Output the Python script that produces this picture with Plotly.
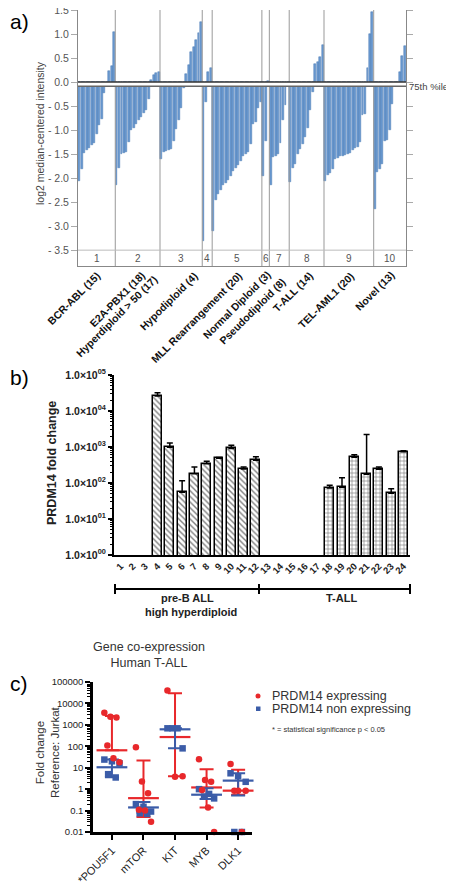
import plotly.graph_objects as go

# the page body keeps its default 8px margin, so the figure starts at (8, 8)
OFF = 8
W, H = 454 - OFF, 886 - OFF
FONT = "Liberation Sans, Arial, sans-serif"


def fx(p):
    return (p - OFF) / W


def fy(p):
    return 1 - (p - OFF) / H


# ---------------- panel a data ----------------
subtype_labels = ["BCR-ABL (15)", "E2A-PBX1 (18)", "Hyperdiploid > 50 (17)", "Hypodiploid (4)",
                  "MLL Rearrangement (20)", "Normal Diploid (3)", "Pseudodiploid (8)",
                  "T-ALL (14)", "TEL-AML1 (20)", "Novel (13)"]
group_numbers = ["1", "2", "3", "4", "5", "6", "7", "8", "9", "10"]
bcr_abl = [-2.05, -1.8, -1.47, -1.42, -1.37, -1.32, -1.27, -1.08, -0.9, -0.76, -0.22, -0.05, 0.22, 0.33, 1.05]
e2a_pbx1 = [-2.15, -1.78, -1.5, -1.48, -1.45, -1.25, -1.0, -0.95, -0.88, -0.8, -0.72, -0.65, -0.58,
            -0.35, 0.05, 0.14, 0.19, 0.2]
hyperdiploid = [-1.6, -1.45, -1.43, -1.42, -1.4, -1.22, -0.98, -0.8, -0.55, -0.12, 0.16, 0.35, 0.62,
                0.72, 0.87, 1.02, 1.26]
hypodiploid = [-3.3, -0.42, 0.2, 0.3]
mll = [-3.1, -2.45, -2.33, -2.25, -2.15, -2.1, -2.03, -1.95, -1.85, -1.78, -1.72, -1.65, -1.55, -1.5,
       -1.45, -1.3, -0.87, -0.83, -0.55, -0.42]
normal_diploid = [-1.95, -1.22, 0.02]
pseudodiploid = [-2.15, -1.57, -1.55, -1.5, -1.27, -0.78, -0.47, -0.02]
t_all = [-2.08, -1.78, -1.7, -1.5, -1.4, -1.3, -1.15, -0.95, -0.58, -0.2, 0.38, 0.42, 0.52, 0.78]
tel_aml1 = [-2.05, -1.93, -1.9, -1.8, -1.6, -1.58, -1.55, -1.53, -1.52, -1.5, -1.48, -1.42, -1.38,
            -1.35, -1.25, -0.68, -0.67, 0.3, 1.0, 1.45]
novel = [-2.65, -1.88, -1.82, -1.7, -1.22, -1.2, -1.0, -0.46, -0.08, 0.0, 0.2, 0.55, 0.75]
ytick_a = [1.5, 1.0, 0.5, 0.0, -0.5, -1.0, -1.5, -2.0, -2.5, -3.0, -3.5]
ytick_a_text = ["1.5", "1.0", "0.5", "0.0", "- 0.5", "- 1.0", "- 1.5", "- 2.0", "- 2.5", "- 3.0", "- 3.5"]
percentile_level = -0.085

# ---------------- panel b data ----------------
patient_ids = list(range(1, 25))
preb_ids = [4, 5, 6, 7, 8, 9, 10, 11, 12]
preb_fold = [26000, 980, 55, 180, 340, 490, 910, 245, 430]
preb_err_top = [32000, 1300, 115, 280, 400, 510, 1120, 280, 540]
tall_ids = [18, 19, 20, 21, 22, 23, 24]
tall_fold = [73, 76, 520, 175, 240, 52, 740]
tall_err_top = [87, 140, 610, 2230, 280, 69, 790]
ytick_b = [1, 10, 100, 1000, 10000, 100000]
ytick_b_exp = ["00", "01", "02", "03", "04", "05"]

# ---------------- panel c data ----------------
genes = ["*POU5F1", "mTOR", "KIT", "MYB", "DLK1"]
expr_points = [[3700, 2400, 2200, 110, 28, 18],
               [90, 2.3, 0.65, 0.11, 0.1, 0.03],
               [40000, 4.0, 3.8],
               [25, 2.7, 2.2, 0.9, 0.14, 0.01],
               [15, 0.85, 0.85, 0.85, 0.01]]
nonexpr_points = [[24, 20, 16, 5, 3.5],
                  [0.2, 0.15, 0.09, 0.075, 0.07],
                  [690, 690, 690, 80],
                  [1.0, 0.6, 0.45, 0.37],
                  [5.5, 4.0, 2.2, 0.01, 0.01]]
expr_mean = [65, 0.38, 270, 1.2, 0.85]
expr_upper = [2600, 22, 30000, 8.5, 8.0]
expr_lower = [65, 0.05, 4.0, 0.14, 0.55]
non_mean = [10.5, 0.14, 620, 0.55, 2.5]
non_upper = [24, 0.25, 700, 1.1, 5.5]
non_lower = [3.6, 0.08, 80, 0.35, 0.5]
ytick_c = [0.01, 0.1, 1, 10, 100, 1000, 10000, 100000]
ytick_c_text = ["0.01", "0.1", "1", "10", "100", "1000", "10000", "100000"]

RED = "#e8282b"
BLUE = "#3b5ca8"

fig = go.Figure()
shapes = []
annotations = []


def note(text, x, y, size, color="#222", xanchor="center", yanchor="middle", angle=0, xref="paper",
         yref="paper"):
    annotations.append(dict(text=text, xref=xref, yref=yref, x=x, y=y, xanchor=xanchor,
                            yanchor=yanchor, textangle=angle, showarrow=False, borderpad=0,
                            font=dict(size=size, color=color, family=FONT)))


# ---- panel a bars
all_groups = [bcr_abl, e2a_pbx1, hyperdiploid, hypodiploid, mll, normal_diploid, pseudodiploid,
              t_all, tel_aml1, novel]
values_a = []
for g in all_groups:
    values_a.extend(g)
counts = [len(g) for g in all_groups]
n_a = len(values_a)
fig.add_trace(go.Bar(x=list(range(n_a)), y=values_a, width=0.78,
                     marker=dict(color="#6b9bd2", line=dict(color="#4676b0", width=0.5)),
                     xaxis="x", yaxis="y", showlegend=False))

bounds = [0]
for c in counts:
    bounds.append(bounds[-1] + c)
for b in bounds[1:-1]:
    shapes.append(dict(type="line", xref="x", yref="y", x0=b - 0.5, x1=b - 0.5, y0=-3.83, y1=1.5,
                       line=dict(color="#999", width=1), layer="above"))
shapes.append(dict(type="line", xref="x", yref="y", x0=-0.5, x1=n_a - 0.5, y0=-3.5, y1=-3.5,
                   line=dict(color="#bbb", width=1)))
shapes.append(dict(type="rect", xref="x", yref="y", x0=-0.5, x1=n_a - 0.5, y0=percentile_level, y1=0,
                   fillcolor="white", line=dict(width=0), layer="above"))
shapes.append(dict(type="line", xref="x", yref="y", x0=-0.5, x1=n_a - 0.5, y0=0, y1=0,
                   line=dict(color="#333", width=1.5), layer="above"))
shapes.append(dict(type="line", xref="x", yref="y", x0=-0.5, x1=n_a - 0.5, y0=percentile_level,
                   y1=percentile_level, line=dict(color="#666", width=1.5), layer="above"))
note("75th %ile", fx(408), percentile_level, 9.5, color="#444", xanchor="left", yref="y")
for i, num in enumerate(group_numbers):
    cx = (bounds[i] + bounds[i + 1] - 1) / 2
    note(num, cx, -3.67, 10, color="#555", xref="x", yref="y")

label_ends = [(104, 268), (149, 268), (161, 272), (201, 268), (246, 268), (274, 268), (289, 274),
              (316, 268), (358, 268), (398, 268)]
for lab, (ex, ey) in zip(subtype_labels, label_ends):
    note("<b>" + lab + "</b>", fx(ex), fy(ey), 10.5, color="#111", xanchor="right", yanchor="top",
         angle=-45)
note("log2 median-centered intensity", fx(40), fy(133), 10.5, color="#444", angle=-90)

# ---- panel b bars
fig.add_trace(go.Bar(x=preb_ids, y=preb_fold, width=0.72, xaxis="x2", yaxis="y2", showlegend=False,
                     marker=dict(color="white", line=dict(color="black", width=1.5),
                                 pattern=dict(shape="\\", fgcolor="black", bgcolor="white",
                                              size=4, solidity=0.35)),
                     error_y=dict(type="data", symmetric=False,
                                  array=[t - v for t, v in zip(preb_err_top, preb_fold)],
                                  arrayminus=[0] * len(preb_fold), color="black", thickness=1.5,
                                  width=3)))
fig.add_trace(go.Bar(x=tall_ids, y=tall_fold, width=0.72, xaxis="x2", yaxis="y2", showlegend=False,
                     marker=dict(color="white", line=dict(color="black", width=1.5),
                                 pattern=dict(shape="+", fgcolor="black", bgcolor="white",
                                              size=4, solidity=0.3)),
                     error_y=dict(type="data", symmetric=False,
                                  array=[t - v for t, v in zip(tall_err_top, tall_fold)],
                                  arrayminus=[0] * len(tall_fold), color="black", thickness=1.5,
                                  width=3)))

# bracket
for (x0, y0, x1, y1) in [(115, 589, 410, 589), (115, 584, 115, 594), (259, 584, 259, 594),
                         (410, 584, 410, 594)]:
    shapes.append(dict(type="line", xref="paper", yref="paper", x0=fx(x0), x1=fx(x1), y0=fy(y0),
                       y1=fy(y1), line=dict(color="black", width=2)))
for txt, x, y in [("pre-B ALL", 187, 598), ("high hyperdiploid", 191, 612), ("T-ALL", 341, 598)]:
    note("<b>" + txt + "</b>", fx(x), fy(y), 11)
note("<b>PRDM14 fold change</b>", fx(52), fy(463), 12.5, angle=-90)


# ---- panel c
def offsets(n):
    if n == 1:
        return [0.0]
    return [-0.24 + 0.48 * k / (n - 1) for k in range(n)]


for mean, up, lo, col in [(expr_mean, expr_upper, expr_lower, RED),
                          (non_mean, non_upper, non_lower, BLUE)]:
    fig.add_trace(go.Scatter(x=list(range(len(genes))), y=mean, mode="markers", xaxis="x3",
                             yaxis="y3", showlegend=False, cliponaxis=False,
                             marker=dict(symbol="line-ew", size=22, color=col,
                                         line=dict(color=col, width=2.2)),
                             error_y=dict(type="data", symmetric=False,
                                          array=[u - m for u, m in zip(up, mean)],
                                          arrayminus=[m - l for m, l in zip(mean, lo)],
                                          color=col, thickness=2, width=7)))

for pts_list, col, sym in [(nonexpr_points, BLUE, "square"), (expr_points, RED, "circle")]:
    xs, ys = [], []
    for gi, pts in enumerate(pts_list):
        offs = offsets(len(pts))
        order = list(range(len(pts)))
        order = order[::2] + order[1::2]
        for k, v in enumerate(pts):
            xs.append(gi + offs[order[k]])
            ys.append(v)
    fig.add_trace(go.Scatter(x=xs, y=ys, mode="markers", xaxis="x3", yaxis="y3", showlegend=False,
                             cliponaxis=False,
                             marker=dict(symbol=sym, size=6.5, color=col, line=dict(width=0))))

note("Gene co-expression<br>Human T-ALL", fx(149), fy(655), 12.5, color="#333")
note("Fold change<br>Reference: Jurkat", fx(47), fy(752), 11.5, color="#333", angle=-90)
# legend
shapes.append(dict(type="circle", xref="paper", yref="paper", x0=fx(255.5), x1=fx(260.5),
                   y0=fy(698.5), y1=fy(693.5), fillcolor=RED, line=dict(width=0)))
shapes.append(dict(type="rect", xref="paper", yref="paper", x0=fx(256), x1=fx(260.5),
                   y0=fy(711), y1=fy(706.5), fillcolor=BLUE, line=dict(width=0)))
for txt, y, sz in [("PRDM14 expressing", 696, 12.5), ("PRDM14 non expressing", 709, 12.5),
                   ("* = statistical significance p < 0.05", 729, 7.5)]:
    note(txt, fx(271), fy(y), sz, color="#333", xanchor="left")

# panel labels
for txt, x, y in [("a)", 19, 22), ("b)", 19, 377), ("c)", 19, 683)]:
    note(txt, fx(x), fy(y), 21, color="black")


def minor_log(lo_exp, hi_exp):
    out = []
    for e in range(lo_exp, hi_exp):
        for d in range(2, 10):
            out.append(d * 10 ** e)
    return out


fig.update_layout(
    width=W, height=H, margin=dict(l=0, r=0, t=0, b=0, autoexpand=False), plot_bgcolor="white",
    paper_bgcolor="white",
    font=dict(family=FONT), bargap=0, shapes=shapes, annotations=annotations,
    xaxis=dict(domain=[fx(78), fx(406)], anchor="y", range=[-0.5, n_a - 0.5], showticklabels=False,
               ticks="", showline=True, linecolor="#888", linewidth=1, showgrid=False, zeroline=False,
               automargin=False),
    yaxis=dict(domain=[fy(266), fy(10)], anchor="x", range=[-3.83, 1.5001], tickvals=ytick_a,
               ticktext=ytick_a_text, ticks="outside", ticklen=6, tickcolor="#aaa", showline=True,
               linecolor="#888", linewidth=1, mirror="ticks", showgrid=False, zeroline=False,
               automargin=False, ticklabeloverflow="allow",
               tickfont=dict(size=10.5, color="#555", family=FONT)),
    xaxis2=dict(domain=[fx(114), fx(410)], anchor="y2", range=[0.46, 24.53], tickvals=patient_ids,
                ticktext=["<b>%d</b>" % p for p in patient_ids], tickangle=-45, ticks="",
                showline=True, linecolor="black", linewidth=2, showgrid=False, zeroline=False,
                automargin=False, tickfont=dict(size=9.5, color="#222", family=FONT)),
    yaxis2=dict(domain=[fy(555), fy(375)], anchor="x2", type="log", range=[0, 5], tickvals=ytick_b,
                ticktext=["<b>1.0×10<sup>%s</sup></b>" % e for e in ytick_b_exp],
                ticks="outside", ticklen=4, tickwidth=2, tickcolor="black", showline=True,
                linecolor="black", linewidth=2, showgrid=False, zeroline=False, automargin=False,
                minor=dict(tickmode="array", tickvals=minor_log(0, 5), ticks="outside", ticklen=2.5,
                           tickwidth=1, tickcolor="black", showgrid=False),
                tickfont=dict(size=10.5, color="#222", family=FONT)),
    xaxis3=dict(domain=[fx(93), fx(252)], anchor="y3", range=[-0.6, 4.44],
                tickvals=list(range(len(genes))), ticktext=genes, tickangle=-45, ticks="outside",
                ticklen=5, tickwidth=2, tickcolor="black", showline=True, linecolor="black",
                linewidth=2.5, showgrid=False, zeroline=False, automargin=False,
                ticklabeloverflow="allow",
                tickfont=dict(size=11, color="#222", family=FONT)),
    yaxis3=dict(domain=[fy(832), fy(682)], anchor="x3", type="log", range=[-2, 5], tickvals=ytick_c,
                ticktext=ytick_c_text, ticks="outside", ticklen=5, tickwidth=2, tickcolor="black",
                showline=True, linecolor="black", linewidth=2.5, showgrid=False, zeroline=False,
                automargin=False,
                minor=dict(tickmode="array", tickvals=minor_log(-2, 5), ticks="outside", ticklen=3,
                           tickwidth=1.2, tickcolor="black", showgrid=False),
                tickfont=dict(size=9.5, color="#222", family=FONT)),
)

fig.write_html("out.html")
